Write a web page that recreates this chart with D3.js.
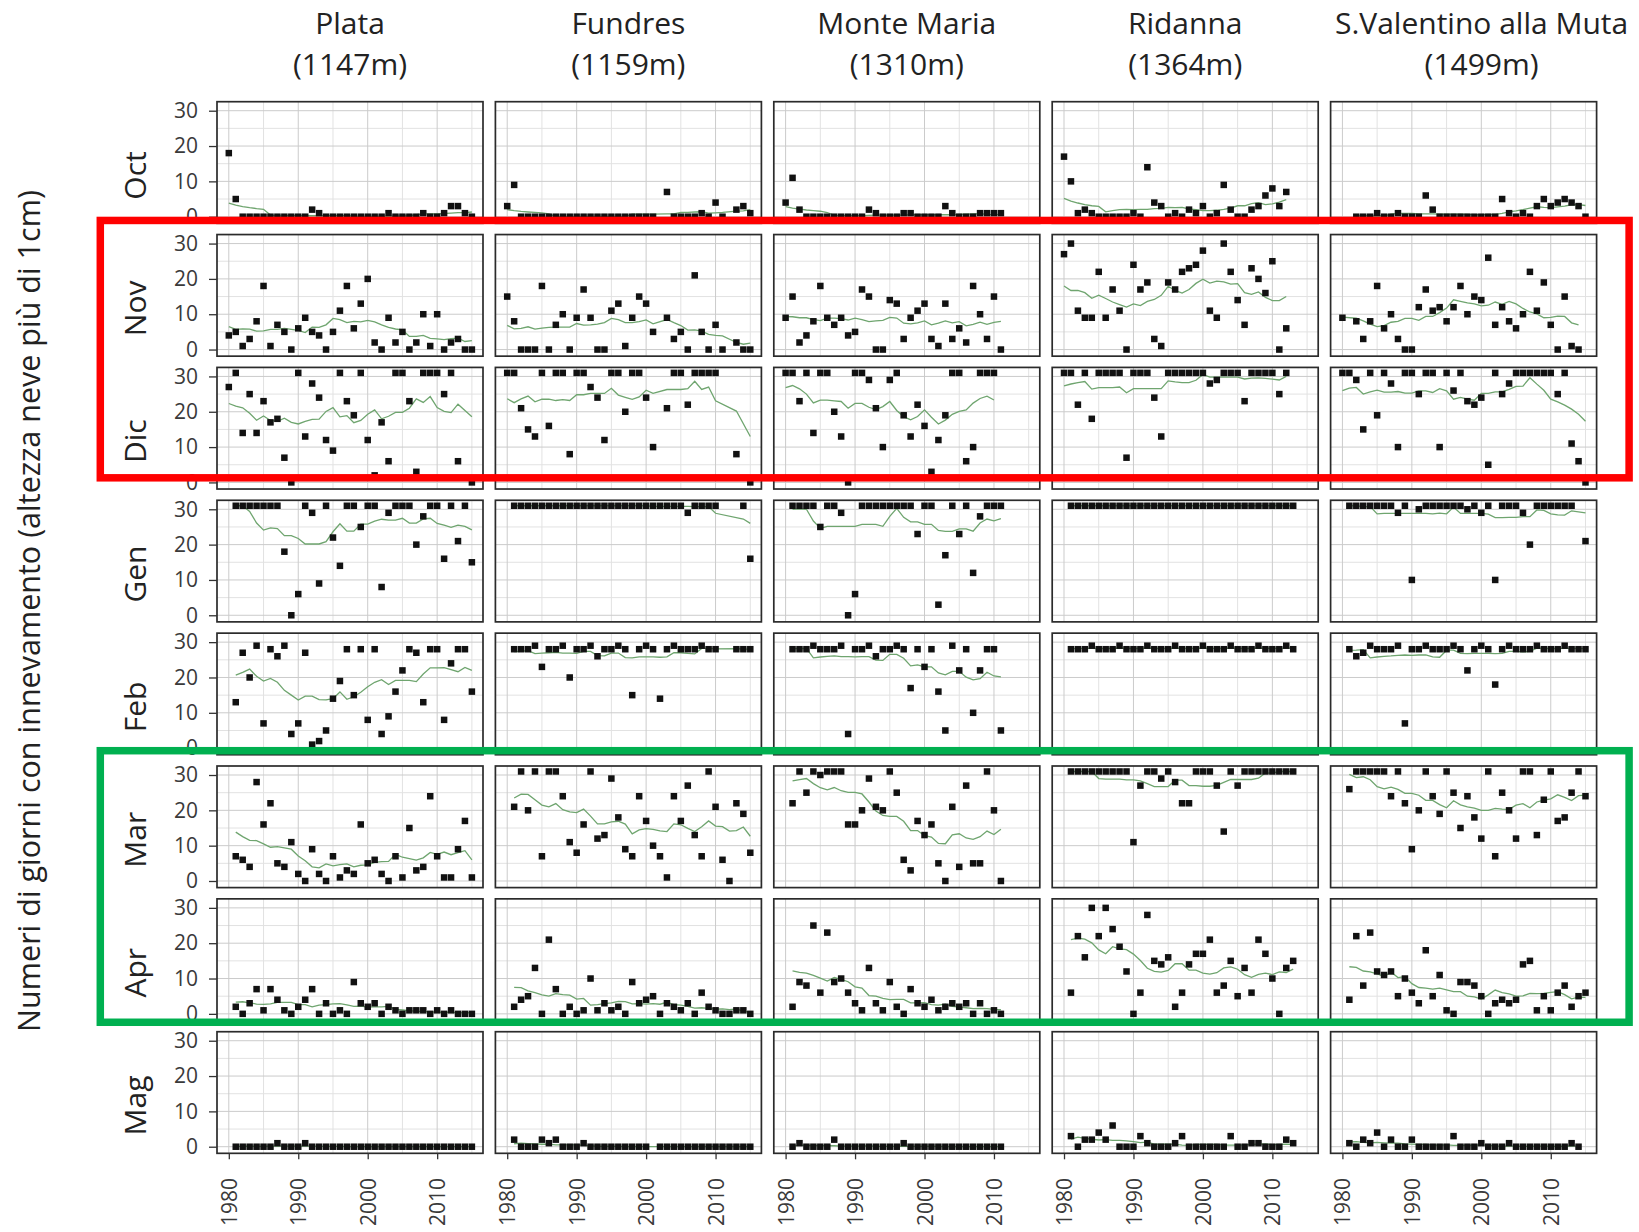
<!DOCTYPE html>
<html><head><meta charset="utf-8">
<script src="https://cdn.jsdelivr.net/npm/d3@7"></script>
<style>body{margin:0;background:#fff}svg{display:block}text{font-family:"Open Sans",sans-serif}</style>
</head><body><svg id="chart" width="1639" height="1232"></svg>
<script>
const years = [1980,1981,1982,1983,1984,1985,1986,1987,1988,1989,1990,1991,1992,1993,1994,1995,1996,1997,1998,1999,2000,2001,2002,2003,2004,2005,2006,2007,2008,2009,2010,2011,2012,2013,2014,2015];
const stations = ["Plata","Fundres","Monte Maria","Ridanna","S.Valentino alla Muta"];
const elevations = ["(1147m)","(1159m)","(1310m)","(1364m)","(1499m)"];
const months = ["Oct","Nov","Dic","Gen","Feb","Mar","Apr","Mag"];
const yTicks = [0,10,20,30];
const xTicks = [1980,1990,2000,2010];
const yTitle = "Numeri di giorni con innevamento (altezza neve più di 1cm)";

// Plata
const plata_oct = [18,5,0,0,0,0,0,0,0,0,0,0,2,1,0,0,0,0,0,0,0,0,0,1,0,0,0,0,1,0,0,1,3,3,1,0];
const plata_nov = [4,5,1,3,8,18,1,7,5,0,6,9,5,4,0,5,11,18,6,13,20,2,0,9,2,5,0,2,10,1,10,0,2,3,0,0];
const plata_dic = [27,31,14,25,14,23,17,18,7,0,31,13,28,24,12,9,31,23,19,31,12,2,17,6,31,31,23,3,31,31,31,25,31,6,null,0];
const plata_gen = [null,31,31,31,31,31,31,31,18,0,6,31,29,9,31,22,14,31,31,25,31,31,8,29,31,31,31,20,28,31,31,16,31,21,31,15];
const plata_feb = [null,13,27,20,29,7,28,26,29,4,7,27,1,2,5,14,19,28,15,28,8,28,4,9,16,22,28,27,13,28,28,8,24,28,28,16];
const plata_mar = [null,7,6,4,28,16,22,5,4,11,2,0,9,2,0,7,1,3,2,16,5,6,2,0,7,1,15,3,4,24,7,1,1,9,17,1];
const plata_apr = [null,2,0,3,7,1,7,4,1,0,2,4,7,0,3,0,1,0,9,3,2,3,0,2,1,0,1,1,1,0,1,0,1,0,0,0];
const plata_mag = [null,0,0,0,0,0,0,1,0,0,0,1,0,0,0,0,0,0,0,0,0,0,0,0,0,0,0,0,0,0,0,0,0,0,0,0];
// Fundres
const fundres_oct = [3,9,0,0,0,0,0,0,0,0,0,0,0,0,0,0,0,0,0,0,0,0,null,7,0,0,0,0,1,0,4,0,null,2,3,1];
const fundres_nov = [15,8,0,0,0,18,0,7,10,0,9,17,9,0,0,11,13,1,9,15,13,5,null,9,3,5,0,21,5,0,7,0,null,2,0,0];
const fundres_dic = [31,31,21,15,13,31,16,31,31,8,31,31,27,24,12,31,31,20,31,31,24,10,null,21,31,31,22,31,31,31,31,null,null,8,null,0];
const fundres_gen = [null,31,31,31,31,31,31,31,31,31,31,31,31,31,31,31,31,31,31,31,31,31,31,31,31,31,29,31,31,31,31,null,null,null,31,16];
const fundres_feb = [null,28,28,28,29,23,28,28,29,20,28,28,29,26,28,28,29,28,15,28,29,28,14,28,29,28,28,28,29,28,28,null,null,28,28,28];
const fundres_mar = [null,21,31,20,31,7,31,31,24,11,8,16,31,12,13,29,18,9,7,24,17,10,7,1,24,17,27,13,7,31,21,6,0,22,19,8];
const fundres_apr = [null,2,4,5,13,0,21,7,0,2,0,1,10,1,3,1,2,0,9,3,4,5,0,3,2,1,3,0,6,2,1,0,0,1,1,0];
const fundres_mag = [null,2,0,0,0,2,1,2,0,0,0,1,0,0,0,0,0,0,0,0,0,null,0,0,0,0,0,0,0,0,0,0,0,0,0,0];
// Monte Maria
const mm_oct = [4,11,2,0,0,0,0,0,0,0,0,0,2,1,0,0,0,1,1,0,0,0,0,3,1,0,0,0,1,1,1,1,null,null,null,null];
const mm_nov = [9,15,2,4,8,18,9,7,9,4,5,17,15,0,0,14,13,3,9,11,13,3,1,13,3,6,2,18,10,3,15,0,null,null,null,null];
const mm_dic = [31,31,23,31,14,31,31,20,13,0,31,31,29,21,10,29,31,19,13,22,16,3,12,19,31,31,6,10,31,31,31,null,null,null,null,null];
const mm_gen = [null,31,31,31,31,25,31,31,29,0,6,31,31,31,31,31,31,31,31,23,31,31,3,17,31,23,31,12,28,31,31,31,null,null,null,null];
const mm_feb = [null,28,28,28,29,28,28,28,29,4,28,28,29,26,28,28,29,28,17,28,23,28,16,5,29,22,28,10,22,28,28,5,null,null,null,null];
const mm_mar = [null,22,31,25,31,30,31,31,31,16,16,20,29,21,20,31,25,6,3,17,13,16,5,0,21,4,27,5,5,31,20,0,null,null,null,null];
const mm_apr = [null,2,9,8,25,6,23,9,10,6,3,1,13,3,1,9,2,0,7,3,2,4,1,2,3,2,3,0,3,0,1,0,null,null,null,null];
const mm_mag = [null,0,1,0,0,0,0,2,0,0,0,0,0,0,0,0,0,1,0,0,0,0,0,0,0,0,0,0,0,0,0,0,null,null,null,null];
// Ridanna
const rid_oct = [17,10,1,2,1,0,0,0,0,0,1,0,14,4,3,0,1,0,2,1,3,0,1,9,2,0,0,2,3,6,8,3,7,null,null,null];
const rid_nov = [27,30,11,9,9,22,9,17,11,0,24,17,19,3,1,19,17,22,23,24,28,11,9,30,22,14,7,23,20,16,25,0,6,null,null,null];
const rid_dic = [31,31,22,31,18,31,31,31,31,7,31,31,31,24,13,31,31,31,31,31,31,28,29,31,31,31,23,31,31,31,31,25,31,null,null,null];
const rid_gen = [null,31,31,31,31,31,31,31,31,31,31,31,31,31,31,31,31,31,31,31,31,31,31,31,31,31,31,31,31,31,31,31,31,31,null,null];
const rid_feb = [null,28,28,28,29,28,28,28,29,28,28,28,29,28,28,28,29,28,28,28,29,28,28,28,29,28,28,28,29,28,28,28,29,28,null,null];
const rid_mar = [null,31,31,31,31,31,31,31,31,31,11,27,31,31,29,31,28,22,22,31,31,31,27,14,31,27,31,31,31,31,31,31,31,31,null,null];
const rid_apr = [null,6,22,16,30,22,30,24,19,12,0,6,28,15,14,16,2,6,14,17,17,21,6,8,15,5,13,6,21,17,10,0,13,15,null,null];
const rid_mag = [null,3,0,2,2,4,2,6,0,0,0,3,1,0,0,0,1,3,0,0,0,0,0,0,3,0,0,1,1,0,0,0,2,1,null,null];
// S.Valentino alla Muta
const sv_oct = [null,null,0,0,0,1,0,0,1,0,0,0,6,2,0,0,0,0,0,0,0,0,0,5,1,0,1,0,3,5,3,4,5,4,3,0];
const sv_nov = [9,null,8,3,8,18,6,10,3,0,0,12,17,11,12,8,12,18,10,15,14,26,7,12,8,6,10,22,11,19,7,0,15,1,0,null];
const sv_dic = [31,31,29,15,31,19,31,28,10,31,31,25,31,31,10,31,26,31,23,22,24,5,31,25,28,31,31,31,31,31,31,25,31,11,6,0];
const sv_gen = [null,31,31,31,31,31,31,31,29,31,10,30,31,31,31,31,31,31,30,31,29,31,10,31,31,31,29,20,31,31,31,31,31,31,null,21];
const sv_feb = [null,28,26,27,29,28,28,28,29,7,28,28,29,28,28,28,29,28,22,28,29,28,18,28,29,28,28,28,29,28,28,28,29,28,28,28];
const sv_mar = [null,26,31,31,31,31,31,24,31,22,9,20,31,24,19,31,25,15,24,18,12,31,7,25,20,12,31,31,13,23,31,17,18,25,31,24];
const sv_apr = [null,4,22,8,23,12,11,12,5,10,6,3,18,5,11,1,0,9,9,8,5,0,3,4,3,4,14,15,1,5,1,6,8,2,5,6];
const sv_mag = [null,1,0,2,1,4,0,2,0,0,2,0,0,0,0,0,3,0,0,0,1,0,0,0,1,0,0,0,0,0,0,0,0,1,0,null];

const table = [
  [plata_oct,plata_nov,plata_dic,plata_gen,plata_feb,plata_mar,plata_apr,plata_mag],
  [fundres_oct,fundres_nov,fundres_dic,fundres_gen,fundres_feb,fundres_mar,fundres_apr,fundres_mag],
  [mm_oct,mm_nov,mm_dic,mm_gen,mm_feb,mm_mar,mm_apr,mm_mag],
  [rid_oct,rid_nov,rid_dic,rid_gen,rid_feb,rid_mar,rid_apr,rid_mag],
  [sv_oct,sv_nov,sv_dic,sv_gen,sv_feb,sv_mar,sv_apr,sv_mag]
];

// layout
const LEFT0 = 217, COLSTEP = 278.4, TOP0 = 101.7, ROWSTEP = 132.86, PW = 266, PH = 121.6;
const colLeft = c => LEFT0 + c * COLSTEP;
const rowTop = r => TOP0 + r * ROWSTEP;
const x = d3.scaleLinear().domain([1978.3, 2016.6]).range([0, PW]);
const y = d3.scaleLinear().domain([-1.87, 32.55]).range([PH, 0]);
const minorX = [1985,1995,2005,2015], minorY = [5,15,25];
const SQ = 6.5;

function runningMean(vals) {
  const out = [];
  vals.forEach((v, i) => {
    if (v == null) return;
    let s = 0, n = 0;
    for (let j = Math.max(0, i - 5); j <= Math.min(vals.length - 1, i + 5); j++) {
      if (vals[j] != null) { s += vals[j]; n++; }
    }
    out.push({year: years[i], v: s / n});
  });
  return out;
}

const svg = d3.select("#chart");
svg.append("rect").attr("width",1639).attr("height",1232).attr("fill","#fff");
const line = d3.line().x(d => x(d.year)).y(d => y(d.v));

stations.forEach((st, c) => {
  months.forEach((m, r) => {
    const vals = table[c][r];
    const g = svg.append("g").attr("transform", `translate(${colLeft(c)},${rowTop(r)})`);
    g.append("rect").attr("width", PW).attr("height", PH).attr("fill", "#fff");
    g.selectAll(".gmx").data(minorX).join("line").attr("x1", d => x(d)).attr("x2", d => x(d)).attr("y1", 0).attr("y2", PH).attr("stroke", "#e2e2e2").attr("stroke-width", 1);
    g.selectAll(".gmy").data(minorY).join("line").attr("y1", d => y(d)).attr("y2", d => y(d)).attr("x1", 0).attr("x2", PW).attr("stroke", "#e2e2e2").attr("stroke-width", 1);
    g.selectAll(".gx").data(xTicks).join("line").attr("x1", d => x(d)).attr("x2", d => x(d)).attr("y1", 0).attr("y2", PH).attr("stroke", "#cbcbcb").attr("stroke-width", 1);
    g.selectAll(".gy").data(yTicks).join("line").attr("y1", d => y(d)).attr("y2", d => y(d)).attr("x1", 0).attr("x2", PW).attr("stroke", "#cbcbcb").attr("stroke-width", 1);
    g.append("path").datum(runningMean(vals)).attr("d", line).attr("fill", "none").attr("stroke", "#6fa56f").attr("stroke-width", 1.3);
    const pts = vals.map((v, i) => ({year: years[i], v})).filter(d => d.v != null);
    g.selectAll(".pt").data(pts).join("rect")
      .attr("x", d => x(d.year) - SQ/2).attr("y", d => y(d.v) - SQ/2)
      .attr("width", SQ).attr("height", SQ).attr("fill", "#111");
    g.append("rect").attr("width", PW).attr("height", PH).attr("fill", "none").attr("stroke", "#2b2b2b").attr("stroke-width", 1.7);
    if (c === 0) {
      const ax = g.append("g").call(d3.axisLeft(y).tickValues(yTicks).tickSize(8).tickPadding(11));
      ax.select(".domain").remove();
      ax.selectAll("line").attr("stroke", "#333").attr("stroke-width", 1.3);
      ax.selectAll("text").attr("font-size", 21).attr("fill", "#3a3a3a").attr("font-family", "Open Sans, sans-serif");
    }
    if (r === months.length - 1) {
      const ax = g.append("g").attr("transform", `translate(0,${PH})`)
        .call(d3.axisBottom(x).tickValues(xTicks).tickSize(6).tickFormat(d3.format("d")));
      ax.select(".domain").remove();
      ax.selectAll("line").attr("stroke", "#333").attr("stroke-width", 1.3);
      ax.selectAll("text").attr("font-size", 21).attr("fill", "#3a3a3a").attr("font-family", "Open Sans, sans-serif")
        .attr("transform", "rotate(-90)").attr("text-anchor", "end")
        .attr("x", -(1178 - rowTop(7) - PH)).attr("y", 0).attr("dy", "0.36em");
    }
  });
  const cx = colLeft(c) + PW / 2 + (c === stations.length - 1 ? 18 : 0);
  svg.append("text").attr("x", cx).attr("y", 34).attr("text-anchor", "middle").attr("font-size", 30).attr("fill", "#222").text(st);
  svg.append("text").attr("x", cx).attr("y", 75).attr("text-anchor", "middle").attr("font-size", 30).attr("fill", "#222").text(elevations[c]);
});

months.forEach((m, r) => {
  svg.append("text").attr("transform", `translate(146,${rowTop(r) + PH / 2 + 13}) rotate(-90)`)
    .attr("text-anchor", "middle").attr("font-size", 30).attr("fill", "#222").text(m);
});
svg.append("text").attr("transform", `translate(40,611) rotate(-90)`)
  .attr("text-anchor", "middle").attr("font-size", 30.5).attr("fill", "#222").text(yTitle);

const boxL = colLeft(0) - 116.7, boxR = colLeft(4) + PW + 32.5;
svg.append("rect").attr("x", boxL).attr("y", rowTop(1) - 14.1)
  .attr("width", boxR - boxL).attr("height", (rowTop(2) + 110.4) - (rowTop(1) - 14.1))
  .attr("fill", "none").attr("stroke", "#ff0000").attr("stroke-width", 7.5);
svg.append("rect").attr("x", boxL).attr("y", rowTop(5) - 15.3)
  .attr("width", boxR - boxL).attr("height", (rowTop(6) + 123.4) - (rowTop(5) - 15.3))
  .attr("fill", "none").attr("stroke", "#00b050").attr("stroke-width", 7.5);
</script>
</body></html>
